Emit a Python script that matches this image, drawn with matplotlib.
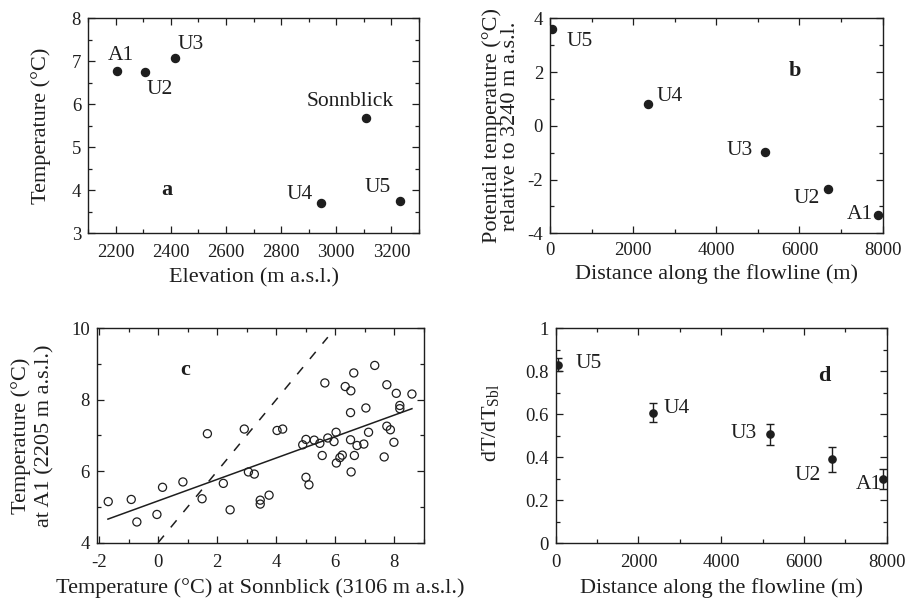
import matplotlib
matplotlib.use('Agg')
import matplotlib.pyplot as plt
from matplotlib.ticker import MultipleLocator, FormatStrFormatter

plt.rcParams['font.family'] = ['Liberation Serif', 'DejaVu Serif']
plt.rcParams['mathtext.fontset'] = 'custom'
plt.rcParams['mathtext.rm'] = 'Liberation Serif'
plt.rcParams['mathtext.it'] = 'Liberation Serif:italic'
plt.rcParams['axes.unicode_minus'] = False

INK = '#1e1e1e'

# (a) station temperature vs elevation
names_a = ['A1', 'U2', 'U3', 'Sonnblick', 'U4', 'U5']
elev = [2205, 2305, 2415, 3106, 2945, 3232]
temp = [6.78, 6.74, 7.07, 5.68, 3.70, 3.75]

# (b), (d) stations along the flowline
names_fl = ['U5', 'U4', 'U3', 'U2', 'A1']
dist = [50, 2350, 5180, 6680, 7900]
pot_temp = [3.59, 0.80, -0.96, -2.35, -3.32]
dtdt = [0.83, 0.607, 0.507, 0.39, 0.30]
dtdt_err = [0.03, 0.045, 0.05, 0.058, 0.047]

# (c) A1 vs Sonnblick temperatures
t_sbl = [-1.69, -0.91, -0.72, -0.04, 0.15, 0.84, 1.49, 1.67, 2.21, 2.44,
         2.92, 3.06, 3.26, 3.46, 3.46, 3.76, 4.03, 4.22, 4.90, 5.01,
         5.01, 5.11, 5.29, 5.48, 5.56, 5.65, 5.75, 5.96, 6.03, 6.04,
         6.16, 6.24, 6.34, 6.53, 6.52, 6.52, 6.54, 6.63, 6.65, 6.74,
         6.97, 7.04, 7.13, 7.34, 7.66, 7.75, 7.75, 7.87, 7.99, 8.07,
         8.19, 8.19, 8.60]
t_a1 = [5.15, 5.21, 4.58, 4.79, 5.55, 5.70, 5.23, 7.05, 5.66, 4.92,
        7.18, 5.98, 5.92, 5.19, 5.08, 5.33, 7.14, 7.18, 6.74, 6.89,
        5.83, 5.62, 6.87, 6.78, 6.44, 8.47, 6.93, 6.83, 7.09, 6.23,
        6.38, 6.45, 8.37, 8.25, 7.64, 6.88, 5.98, 8.75, 6.44, 6.72,
        6.76, 7.77, 7.09, 8.96, 6.40, 8.42, 7.26, 7.16, 6.81, 8.18,
        7.84, 7.75, 8.16]
fit_x = [-1.7, 8.6]
fit_slope, fit_icpt = 0.30, 5.17
ref_x = [0.0, 5.75]
ref_slope, ref_icpt = 1.0, 4.0

# label offsets (points)
off_a = [(2.6, 11.3), (10.8, -12.2), (11.3, 9.6), (-11.2, 12), (-15.6, 6.5), (-16.3, 9.9)]
off_b = [(19.7, -8.9), (15.6, 5.5), (-18.7, 0.7), (-15.1, -6.7), (-13.2, 0.2)]
off_d = [(22.3, 0.7), (16.8, 3.1), (-19.2, 0.7), (-17.3, -11.3), (-9.6, -4.3)]

fig = plt.figure(figsize=(9.09, 6.04), dpi=100)
ax_a = fig.add_axes([0.0968, 0.6137, 0.3642, 0.356])
ax_b = fig.add_axes([0.605, 0.6137, 0.366, 0.356])
ax_c = fig.add_axes([0.1064, 0.1015, 0.3604, 0.355])
ax_d = fig.add_axes([0.6113, 0.1005, 0.3642, 0.356])


def style(ax, xmaj, xmin, ymaj, ymin, xpad=8):
    ax.xaxis.set_major_locator(MultipleLocator(xmaj))
    ax.xaxis.set_minor_locator(MultipleLocator(xmin))
    ax.yaxis.set_major_locator(MultipleLocator(ymaj))
    ax.yaxis.set_minor_locator(MultipleLocator(ymin))
    ax.tick_params(which='both', direction='in', top=True, right=True,
                   color=INK, labelcolor=INK, labelsize=13.5, width=0.9)
    ax.tick_params(which='major', length=5)
    ax.tick_params(which='minor', length=3)
    ax.tick_params(axis='x', pad=xpad)
    ax.tick_params(axis='y', pad=5)
    for s in ax.spines.values():
        s.set_color(INK)
        s.set_linewidth(1.0)
    ax.xaxis.set_major_formatter(FormatStrFormatter('%g'))
    ax.yaxis.set_major_formatter(FormatStrFormatter('%g'))


def labels(ax, names, xs, ys, offs):
    for n, x, y, o in zip(names, xs, ys, offs):
        ax.annotate(n, (x, y), xytext=o, textcoords='offset points',
                    ha='center', va='center', fontsize=15.5, color=INK)


# (a)
ax_a.plot(elev, temp, 'o', color=INK, ms=5.8)
labels(ax_a, names_a, elev, temp, off_a)
ax_a.set_xlim(2100, 3300)
ax_a.set_ylim(3, 8)
style(ax_a, 200, 100, 1, 0.5)
ax_a.set_xlabel('Elevation (m a.s.l.)', fontsize=16, color=INK, labelpad=5)
ax_a.set_ylabel('Temperature (°C)', fontsize=16, color=INK, labelpad=15)
ax_a.text(2385, 4.0, 'a', fontsize=16, fontweight='bold', ha='center', va='center', color=INK)

# (b)
ax_b.plot(dist, pot_temp, 'o', color=INK, ms=5.8)
labels(ax_b, names_fl, dist, pot_temp, off_b)
ax_b.set_xlim(0, 8000)
ax_b.set_ylim(-4, 4)
style(ax_b, 2000, 1000, 2, 1, xpad=6)
ax_b.set_xlabel('Distance along the flowline (m)', fontsize=16, color=INK, labelpad=4)
ax_b.set_ylabel('Potential temperature (°C)\nrelative to 3240 m a.s.l.',
                fontsize=16, color=INK, labelpad=5, linespacing=0.95)
ax_b.text(5900, 2.05, 'b', fontsize=16, fontweight='bold', ha='center', va='center', color=INK)

# (c)
ax_c.scatter(t_sbl, t_a1, s=34, facecolors='none', edgecolors=INK, linewidths=0.9)
ax_c.plot(fit_x, [fit_slope * x + fit_icpt for x in fit_x], '-', color=INK, lw=1.1)
ax_c.plot(ref_x, [ref_slope * x + ref_icpt for x in ref_x], color=INK, lw=1.1,
          dashes=(6, 7))
ax_c.set_xlim(-2.08, 9.02)
ax_c.set_ylim(4, 10)
style(ax_c, 2, 1, 2, 1)
ax_c.set_xlabel('Temperature (°C) at Sonnblick (3106 m a.s.l.)', fontsize=16, color=INK, labelpad=5)
ax_c.set_ylabel('Temperature (°C)\nat A1 (2205 m a.s.l.)', fontsize=16, color=INK,
                labelpad=12, linespacing=1.3)
ax_c.text(0.92, 8.84, 'c', fontsize=16, fontweight='bold', ha='center', va='center', color=INK)

# (d)
ax_d.errorbar(dist, dtdt, yerr=dtdt_err, fmt='o', color=INK, ms=5.2,
              elinewidth=1.0, capsize=3, capthick=1.0)
labels(ax_d, names_fl, dist, dtdt, off_d)
ax_d.set_xlim(0, 8000)
ax_d.set_ylim(0, 1)
style(ax_d, 2000, 1000, 0.2, 0.1)
ax_d.set_xlabel('Distance along the flowline (m)', fontsize=16, color=INK, labelpad=5)
ax_d.set_ylabel(r'dT/dT$_{\mathrm{Sbl}}$', fontsize=16, color=INK)
ax_d.yaxis.set_label_coords(-0.165, 0.56)
ax_d.text(6500, 0.78, 'd', fontsize=16, fontweight='bold', ha='center', va='center', color=INK)

fig.savefig('out.png', dpi=100)
